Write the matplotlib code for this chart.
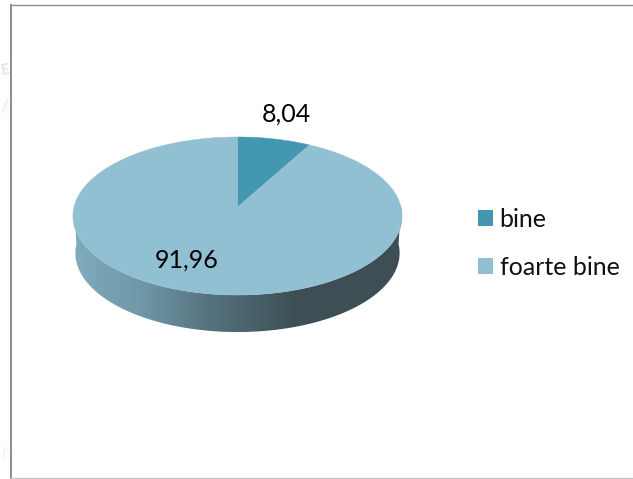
import numpy as np
import matplotlib
matplotlib.use("Agg")
import matplotlib.pyplot as plt
from matplotlib.patches import Patch, Polygon
from matplotlib.colors import LinearSegmentedColormap

labels = ["bine", "foarte bine"]
values = [8.04, 91.96]
value_labels = ["8,04", "91,96"]
colors = ["#4397B1", "#92C0D3"]
side_stops = [(0.0, "#80ABBC"), (0.3, "#6F98A8"), (0.6, "#55737E"), (1.0, "#3D4F55")]

plt.rcParams["font.family"] = ["Lato", "DejaVu Sans"]
W, H = 633, 479
fig = plt.figure(figsize=(W / 100, H / 100), dpi=100)
ax = fig.add_axes([0, 0, 1, 1])
ax.set_xlim(0, W)
ax.set_ylim(H, 0)
ax.axis("off")

# tilted-disc projection: unit circle to pixels
cx, cy, bx, by, k = 237.5, 207.0, 163.5, 78.0, 0.114
def project(theta, scale=1.0, dy=0.0):
    u, v = np.sin(theta), np.cos(theta)
    d = 1 + k * v
    return np.column_stack([cx + scale * bx * u / d, cy + dy - by * v / d])

# side wall with horizontal gradient
cmap = LinearSegmentedColormap.from_list("side", side_stops)
grad = np.linspace(0, 1, 400)[None, :]
img = ax.imshow(grad, cmap=cmap, extent=(74, 298, 340, 200), aspect="auto", zorder=1)
right = ax.imshow(np.ones((2, 2)), cmap=LinearSegmentedColormap.from_list("d", ["#3D4F55", "#3D4F55"]),
                  extent=(298, 410, 340, 200), aspect="auto", zorder=1)
ax.set_xlim(0, W)
ax.set_ylim(H, 0)
clip_pts = np.vstack([
    project(np.linspace(np.pi / 2, 3 * np.pi / 2, 361)),
    project(np.linspace(3 * np.pi / 2, np.pi / 2, 361), scale=0.985, dy=37.0),
])
clip_poly = Polygon(clip_pts, closed=True, transform=ax.transData, fc="none", ec="none")
ax.add_patch(clip_poly)
img.set_clip_path(clip_poly)
right.set_clip_path(clip_poly)

# top face, slices from the values
fractions = np.cumsum([0] + values) / np.sum(values)
for i, c in enumerate(colors):
    th = np.linspace(fractions[i], fractions[i + 1], 400) * 2 * np.pi
    pts = np.vstack([[[cx, cy]], project(th)])
    ax.add_patch(Polygon(pts, closed=True, fc=c, ec=c, lw=0.3, zorder=2))

ax.text(286.5, 114, value_labels[0], fontsize=18, ha="center", va="center", color="black", zorder=3)
ax.text(187, 260, value_labels[1], fontsize=18, ha="center", va="center", color="black", zorder=3)

handles = [Patch(fc=c, ec="none", label=l) for c, l in zip(colors, labels)]
leg = ax.legend(handles=handles, loc="upper left", bbox_to_anchor=(473 / W, 1 - 203 / H),
                frameon=False, fontsize=18, handlelength=0.6, handleheight=0.6,
                handletextpad=0.26, labelspacing=1.0, borderaxespad=0, borderpad=0.2,
                labelcolor="#111111")

# chart frame
ax.plot([10.5, 10.5], [4, H], color="#8C8C8C", lw=1.4, zorder=5, solid_capstyle="butt")
ax.plot([10, W], [4.5, 4.5], color="#8C8C8C", lw=1.0, zorder=5, solid_capstyle="butt")
ax.plot([10, W], [478, 478], color="#C4C4C4", lw=1.0, zorder=5, solid_capstyle="butt")

# faint background letters showing beyond the frame
ax.text(5, 70, "E", fontsize=11, fontweight="bold", color="#DDE8E7", ha="center", va="center", rotation=10)
ax.text(5, 106, "/", fontsize=14, color="#E4ECEC", ha="center", va="center")
ax.text(5, 455, "Г", fontsize=11, color="#EDF2F2", ha="center", va="center", rotation=-8)

fig.savefig("out.png", dpi=100)
